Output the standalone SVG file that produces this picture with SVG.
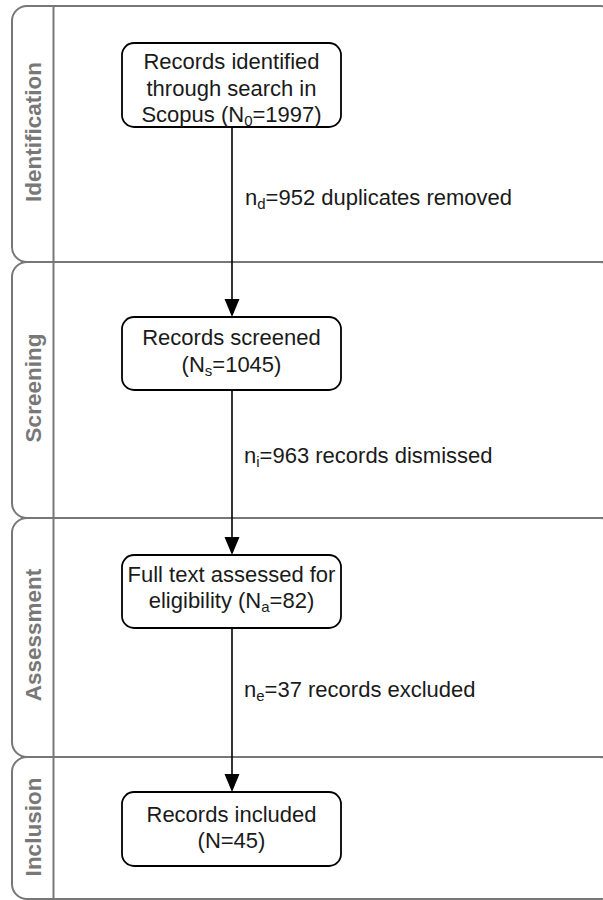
<svg xmlns="http://www.w3.org/2000/svg" width="603" height="900" viewBox="0 0 603 900">
<style>
.lane{fill:none;stroke:#777777;stroke-width:2}
.lbl{font-family:"Liberation Sans",Arial,sans-serif;font-size:22.5px;font-weight:bold;fill:#787878;text-anchor:middle}
.box{fill:#ffffff;stroke:#000000;stroke-width:1.8}
.t{font-family:"Liberation Sans",Arial,sans-serif;font-size:22px;fill:#1a1a1a;text-anchor:middle}
.e{font-family:"Liberation Sans",Arial,sans-serif;font-size:22px;fill:#1a1a1a}
.s{font-size:15px}
.c{stroke:#000000;stroke-width:1.6;fill:none}
</style>
<g id="lane-identification">
<rect class="lane" x="12" y="6" width="603" height="256" rx="15"/>
<line class="lane" x1="53.5" y1="6" x2="53.5" y2="262"/>
<text class="lbl" transform="translate(41,132) rotate(-90)">Identification</text>
</g>
<g id="lane-screening">
<rect class="lane" x="12" y="262" width="603" height="256" rx="15"/>
<line class="lane" x1="53.5" y1="262" x2="53.5" y2="518"/>
<text class="lbl" transform="translate(41,388) rotate(-90)">Screening</text>
</g>
<g id="lane-assessment">
<rect class="lane" x="12" y="518" width="603" height="239" rx="15"/>
<line class="lane" x1="53.5" y1="518" x2="53.5" y2="757"/>
<text class="lbl" transform="translate(41,635) rotate(-90)">Assessment</text>
</g>
<g id="lane-inclusion">
<rect class="lane" x="12" y="757" width="603" height="142" rx="15"/>
<line class="lane" x1="53.5" y1="757" x2="53.5" y2="900"/>
<text class="lbl" transform="translate(41,827) rotate(-90)">Inclusion</text>
</g>
<g id="connectors">
<line class="c" x1="232" y1="127" x2="232" y2="300"/>
<path d="M224.5,299 L239.5,299 L232,317 Z" fill="#000000"/>
<line class="c" x1="232" y1="390" x2="232" y2="538"/>
<path d="M224.5,537 L239.5,537 L232,555 Z" fill="#000000"/>
<line class="c" x1="232" y1="628" x2="232" y2="775"/>
<path d="M224.5,774 L239.5,774 L232,792 Z" fill="#000000"/>
<text class="e" x="245" y="205">n<tspan class="s" dy="4">d</tspan><tspan dy="-4">=952 duplicates removed</tspan></text>
<text class="e" x="244" y="463">n<tspan class="s" dy="4">i</tspan><tspan dy="-4">=963 records dismissed</tspan></text>
<text class="e" x="244" y="697">n<tspan class="s" dy="4">e</tspan><tspan dy="-4">=37 records excluded</tspan></text>
</g>
<g id="node-identified">
<rect class="box" x="122" y="43" width="219" height="84" rx="12"/>
<text class="t" x="231.5" y="69">Records identified</text>
<text class="t" x="231.5" y="95.5">through search in</text>
<text class="t" x="231.5" y="122">Scopus (N<tspan class="s" dy="4">0</tspan><tspan dy="-4">=1997)</tspan></text>
</g>
<g id="node-screened">
<rect class="box" x="122" y="317" width="219" height="73" rx="12"/>
<text class="t" x="231.5" y="345">Records screened</text>
<text class="t" x="231.5" y="371.5">(N<tspan class="s" dy="4">s</tspan><tspan dy="-4">=1045)</tspan></text>
</g>
<g id="node-assessed">
<rect class="box" x="122" y="555" width="219" height="73" rx="12"/>
<text class="t" x="231.5" y="582">Full text assessed for</text>
<text class="t" x="231.5" y="608">eligibility (N<tspan class="s" dy="4">a</tspan><tspan dy="-4">=82)</tspan></text>
</g>
<g id="node-included">
<rect class="box" x="122" y="792" width="219" height="74" rx="12"/>
<text class="t" x="231.5" y="822">Records included</text>
<text class="t" x="231.5" y="848">(N=45)</text>
</g>
</svg>
